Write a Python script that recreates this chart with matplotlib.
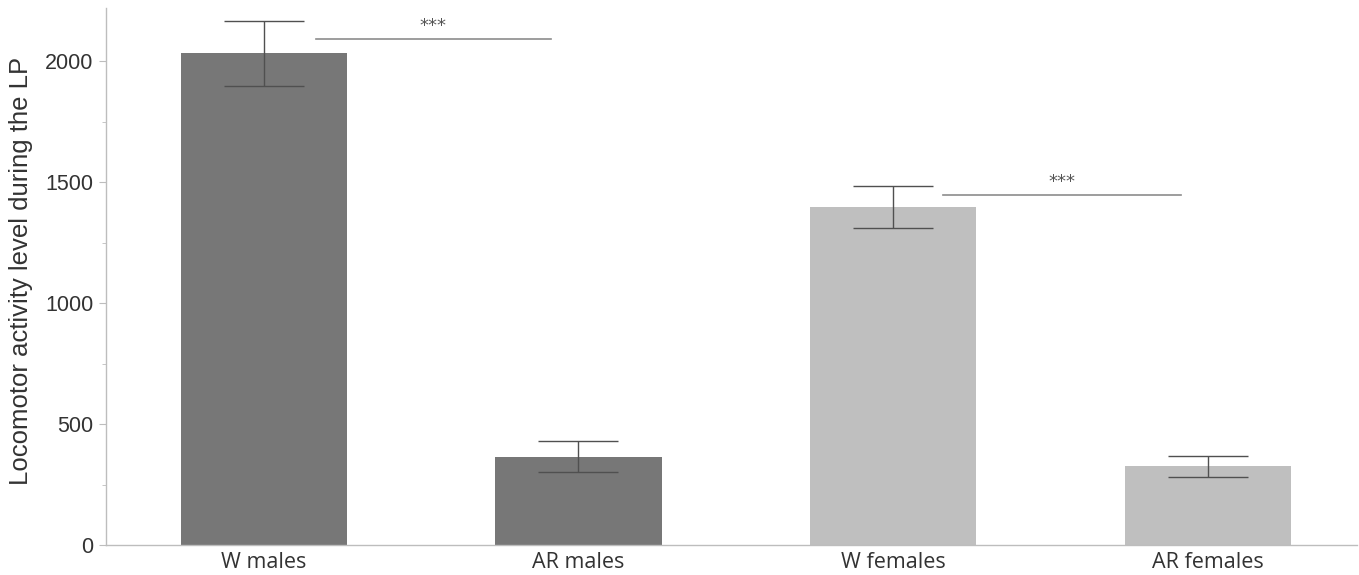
import matplotlib
matplotlib.use("Agg")
import matplotlib.pyplot as plt
from matplotlib.ticker import MultipleLocator

groups = ["W males", "AR males", "W females", "AR females"]
means = [2032, 365, 1397, 326]
sem = [134, 64, 86, 43]
colors = ["#777777", "#777777", "#bfbfbf", "#bfbfbf"]

# significance brackets: (x start, x end, y level)
sig_pairs = [(0.165, 0.913, 2090), (2.159, 2.916, 1445)]

fig = plt.figure(figsize=(13.59, 5.75), dpi=100)
ax = fig.add_axes([106 / 1359, 30 / 575, (1357 - 106) / 1359, (545 - 8) / 575])

x = list(range(len(groups)))
ax.bar(x, means, width=0.528, color=colors, zorder=2)
ax.errorbar(x, means, yerr=sem, fmt="none", ecolor="#505050",
            elinewidth=1.0, capsize=29, capthick=1.0, zorder=3)

for x0, x1, y in sig_pairs:
    ax.plot([x0, x1], [y, y], color="#8c8c8c", lw=1.2)
    ax.text((x0 + x1) / 2 - 0.0, y + 20, "***", ha="center", va="bottom",
            fontsize=13, color="#555555", family="DejaVu Sans")

ax.set_xlim(-0.502, 3.475)
ax.set_ylim(0, 2220)
ax.yaxis.set_major_locator(MultipleLocator(500))
ax.yaxis.set_minor_locator(MultipleLocator(250))

for s in ["top", "right"]:
    ax.spines[s].set_visible(False)
for s in ["left", "bottom"]:
    ax.spines[s].set_color("#bdbdbd")
    ax.spines[s].set_linewidth(1.0)

ax.set_xticks(x)
ax.set_xticklabels(groups, fontsize=15.5, family="Open Sans", color="#333333")
ax.tick_params(axis="x", length=0, pad=5)
ax.tick_params(axis="y", which="major", length=5, color="#bdbdbd",
               labelsize=15.5, labelcolor="#333333", pad=4)
ax.tick_params(axis="y", which="minor", length=3, color="#bdbdbd")
for lab in ax.get_yticklabels():
    lab.set_family("Liberation Sans")

ax.set_ylabel("Locomotor activity level during the LP", fontsize=18.5,
              family="Liberation Sans", color="#333333")
ax.yaxis.set_label_coords(-0.058, 0.511)

fig.savefig("out.png", dpi=100)
